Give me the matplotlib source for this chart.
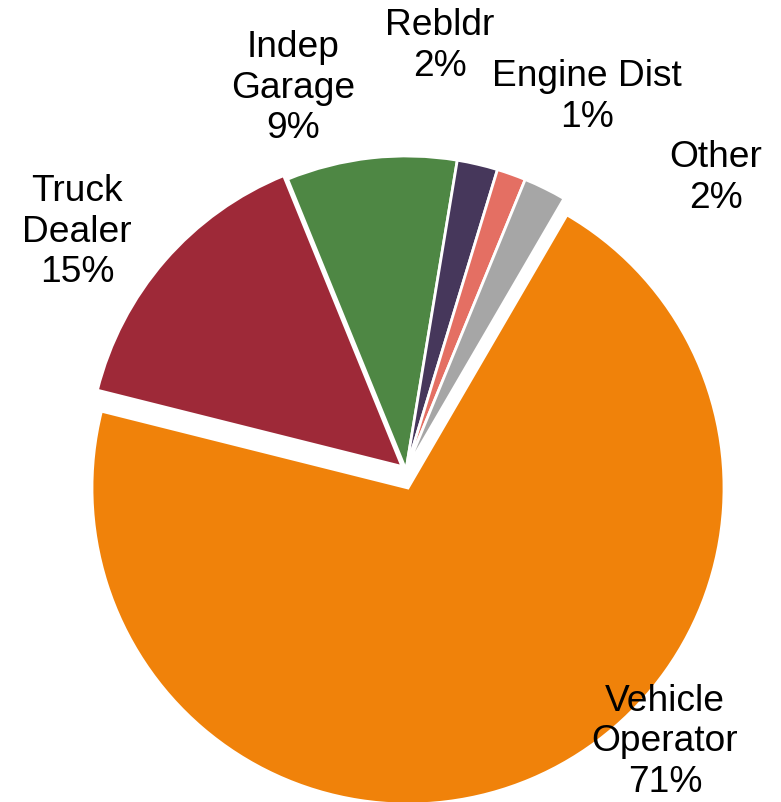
import matplotlib
matplotlib.use("Agg")
import matplotlib.pyplot as plt
import numpy as np

categories = ["Vehicle\nOperator", "Truck\nDealer", "Indep\nGarage", "Rebldr", "Engine Dist", "Other"]
shares = [70.8, 15.0, 8.8, 2.1, 1.5, 2.2]          # slice sizes as drawn
pct_labels = [71, 15, 9, 2, 1, 2]                  # percentages as printed
colors = ["#F0820A", "#9E2938", "#4E8744", "#46375B", "#E46F63", "#A6A6A6"]
label_pos = [(665, 61), (77, 571), (293, 715), (440, 757), (587, 706), (716, 625)]

plt.rcParams['font.family'] = ['Liberation Sans', 'DejaVu Sans']

fig = plt.figure(figsize=(7.81, 8.03), dpi=100)
ax = fig.add_axes([0, 0, 1, 1])

wedges, _ = ax.pie(shares, colors=colors, startangle=59.8, counterclock=False,
                   center=(406, 332), radius=314,
                   wedgeprops=dict(edgecolor='white', linewidth=2.0))
# exploded slices
wedges[0].set_center((408, 314))
wedges[0].set_radius(316)
wedges[1].set_center((402, 335.5))
ax.set_xlim(0, 781)
ax.set_ylim(0, 803)
ax.set_aspect('equal')
ax.axis('off')

for cat, v, (x, y) in zip(categories, pct_labels, label_pos):
    ax.text(x, y, f"{cat}\n{v}%", ha='center', va='center', fontsize=26.7,
            linespacing=1.2, color='black')

fig.savefig("out.png", dpi=100)
